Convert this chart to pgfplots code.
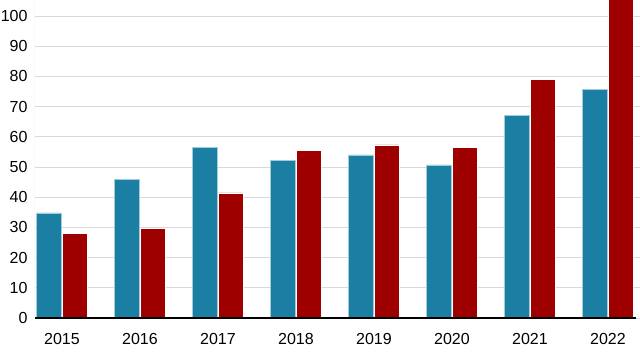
\documentclass[border=0pt]{standalone}
\usepackage{pgfplots}
\pgfplotsset{compat=1.18}
\usepackage{fontspec}
\setmainfont{Liberation Sans}
\definecolor{teal1}{HTML}{1A7FA2}
\definecolor{red1}{HTML}{9E0000}
\definecolor{grid1}{HTML}{D9D9D9}
\begin{document}
\begin{tikzpicture}[x=1pt,y=1pt]
\begin{scope}
\clip (0,0) rectangle (640,360);
\begin{axis}[
  at={(35pt,42pt)}, anchor=south west,
  scale only axis,
  width=608pt, height=318pt,
  xmin=-0.346, xmax=7.45,
  ymin=0, ymax=105.3,
  clip=true,
  axis line style={draw=none},
  xtick={0,...,7},
  xticklabels={2015,2016,2017,2018,2019,2020,2021,2022},
  ytick={0,10,...,100},
  major tick length=0pt,
  ymajorgrids,
  grid style={grid1, line width=1pt},
  tick label style={font=\fontsize{16}{19}\selectfont},
  xticklabel style={yshift=-12pt},
  yticklabel style={xshift=-4pt},
  /pgf/number format/assume math mode=true,
  ybar, bar width=24.5pt,
]
\addplot[fill=teal1, draw=teal1!40!white, line width=0.5pt, bar shift=-13pt] coordinates {
(0,34.8) (1,46.0) (2,56.6) (3,52.3) (4,54.0) (5,50.7) (6,67.2) (7,75.8)};
\addplot[fill=red1, draw=white, line width=0.5pt, bar shift=13pt] coordinates {
(0,28.1) (1,29.8) (2,41.4) (3,55.6) (4,57.3) (5,56.6) (6,79.1) (7,110)};
\draw[grid1, line width=1pt] (axis cs:-0.346,0) -- (axis cs:-0.346,105.3);
\draw[black, line width=1.5pt] (axis cs:-0.346,0) -- (axis cs:7.36,0);
\end{axis}
\end{scope}
\pgfresetboundingbox
\useasboundingbox (0,0) rectangle (640,360);
\end{tikzpicture}
\end{document}
